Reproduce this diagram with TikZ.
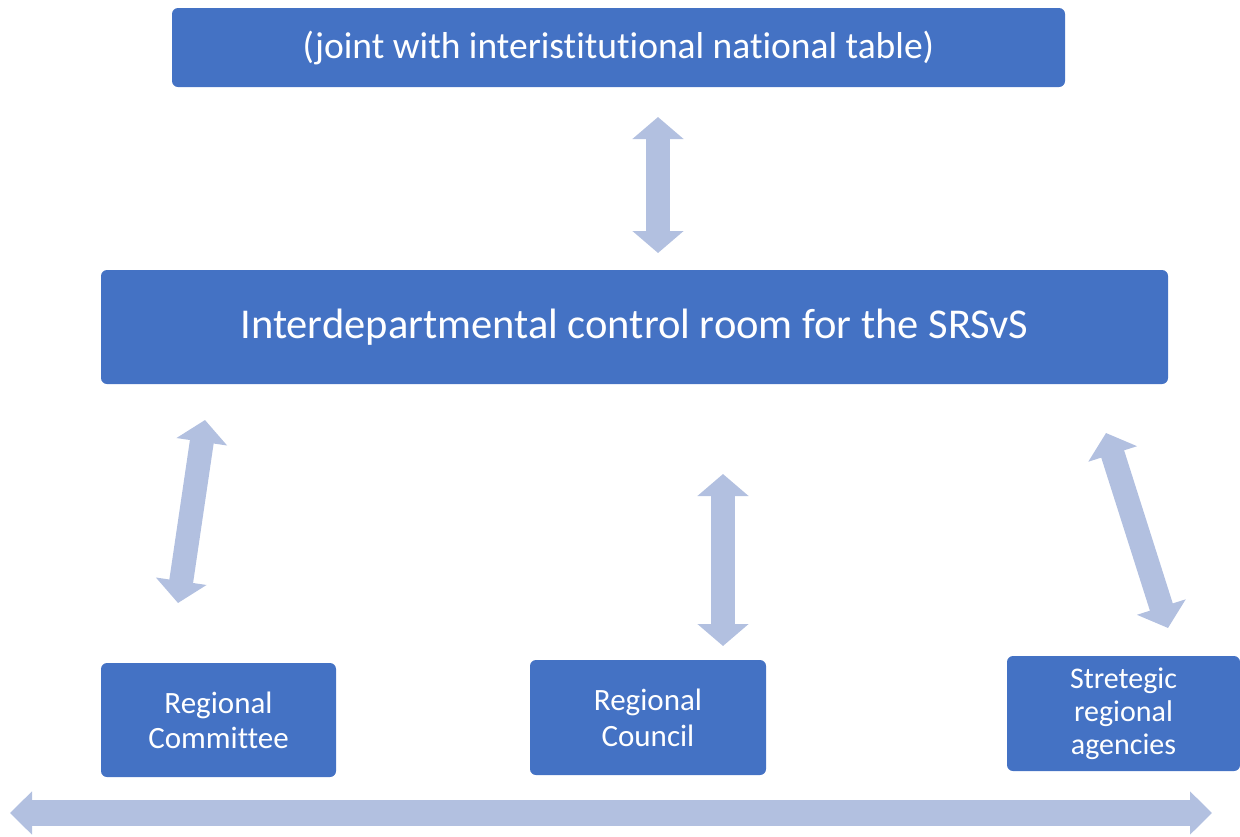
\documentclass[tikz,border=0pt]{standalone}
\usepackage{fontspec}
\setmainfont{Carlito}[Ligatures=NoCommon]
\usetikzlibrary{arrows.meta}
\definecolor{boxblue}{HTML}{4472C4}
\definecolor{arrblue}{HTML}{B2C0E0}
\tikzset{
  bluebox/.style={fill=boxblue, draw=none, rounded corners=6pt, text=white, align=center, inner sep=0pt},
  blockarrow/.style={draw=arrblue, line width=24pt,
    {Triangle[width=50pt,length=22pt]}-{Triangle[width=50pt,length=22pt]}},
}
\begin{document}
\begin{tikzpicture}[x=1pt,y=-1pt]
\useasboundingbox (0,0) rectangle (1240,836);
% boxes
\node[bluebox, minimum width=893pt, minimum height=79pt, font=\fontsize{37.5}{42}\selectfont] (top) at (618.5,47.5) {(joint with interistitutional national table)};
\node[bluebox, minimum width=1067pt, minimum height=114pt, font=\fontsize{42.5}{48}\selectfont] (mid) at (634.5,327) {Interdepartmental control room for the SRSvS};
\node[bluebox, minimum width=235pt, minimum height=114pt, font=\fontsize{31}{35}\selectfont] (rcom) at (218.5,720) {Regional\\Committee};
\node[bluebox, minimum width=236pt, minimum height=115pt, font=\fontsize{31}{36}\selectfont] (rcou) at (648,717.5) {Regional\\Council};
\node[bluebox, minimum width=233pt, minimum height=115pt, font=\fontsize{30}{33}\selectfont] (agen) at (1123.5,713.5) {Stretegic\\regional\\agencies};
% arrow ends
\coordinate (a1t) at (658,117);
\coordinate (a1b) at (658,253);
\coordinate (a2t) at (205,420);
\coordinate (a2b) at (178,603);
\coordinate (a3t) at (723,474);
\coordinate (a3b) at (723,646);
\coordinate (a4t) at (1106,433);
\coordinate (a4b) at (1168,628);
\coordinate (a5l) at (10,813);
\coordinate (a5r) at (1212,813);
\draw[blockarrow] (a1t) -- (a1b);
\draw[blockarrow] (a2t) -- (a2b);
\draw[blockarrow] (a3t) -- (a3b);
\draw[blockarrow] (a4t) -- (a4b);
\draw[blockarrow, line width=26pt, {Triangle[width=42pt,length=22pt]}-{Triangle[width=42pt,length=22pt]}] (a5l) -- (a5r);
\end{tikzpicture}
\end{document}
